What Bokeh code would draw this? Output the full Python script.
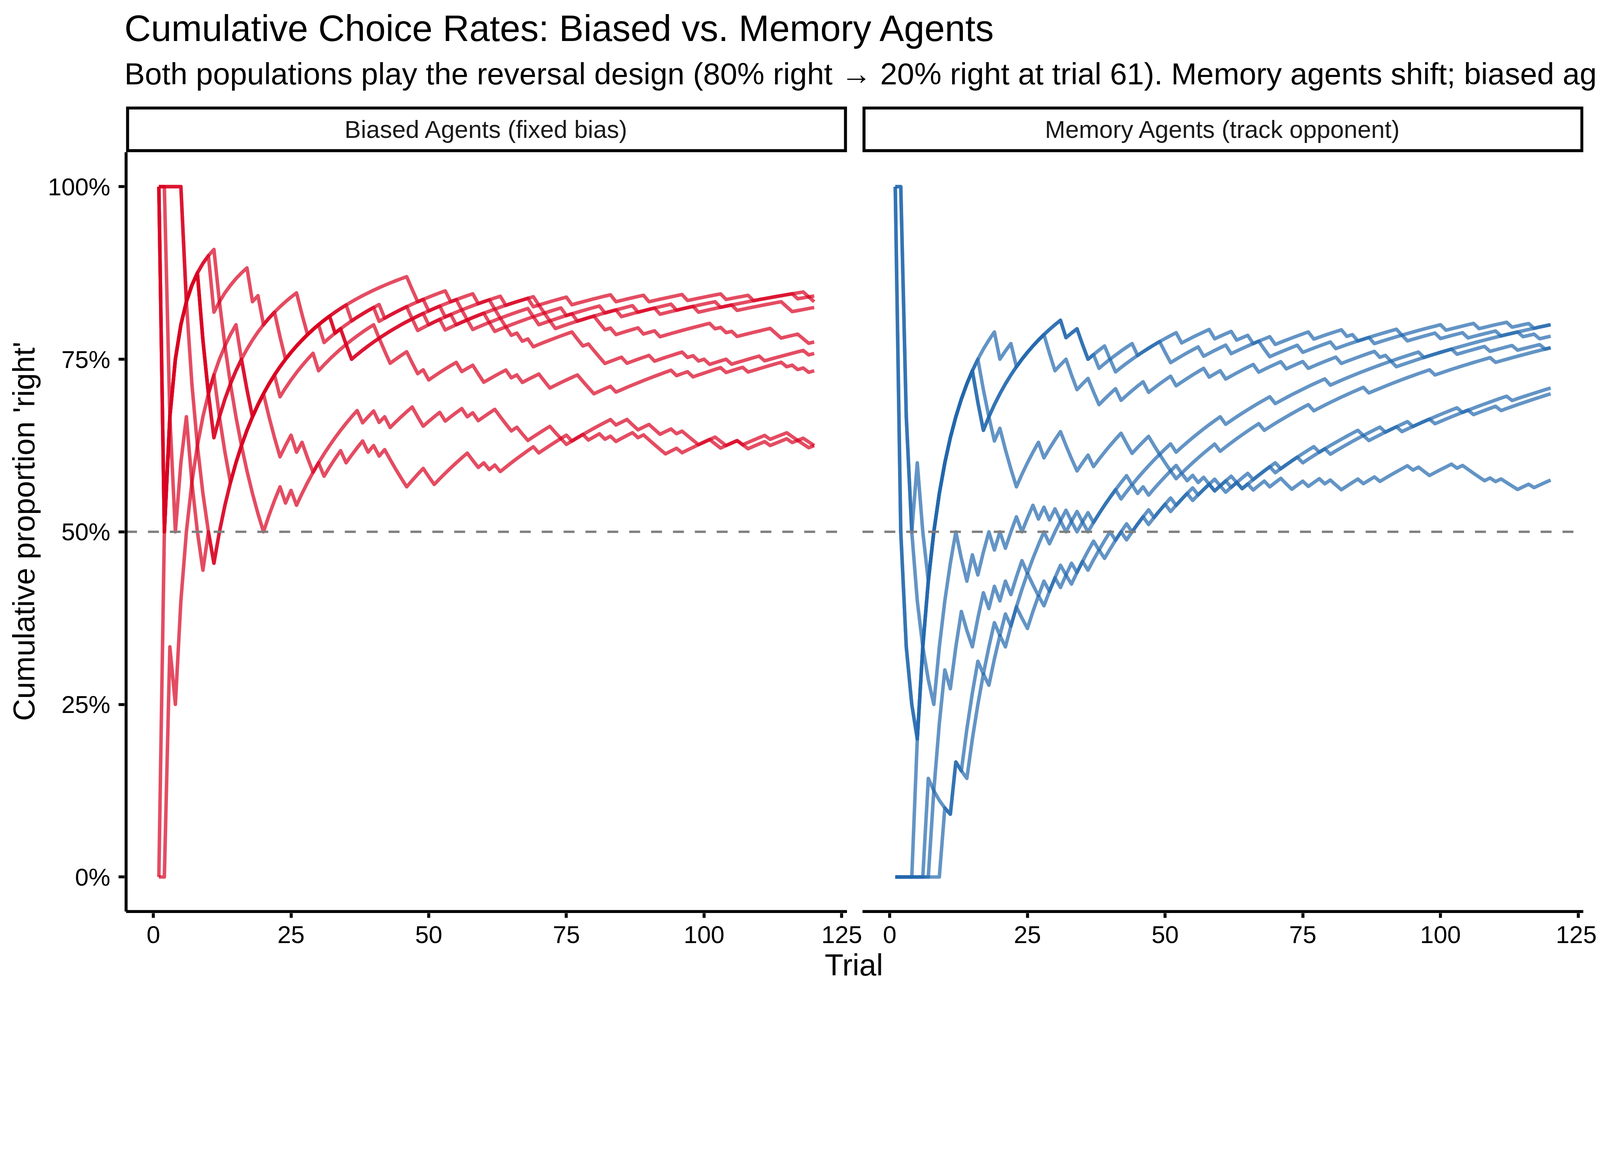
import numpy as np
from bokeh.plotting import figure
from bokeh.models import Range1d, FixedTicker, Title, NumeralTickFormatter
from bokeh.core.properties import value
from bokeh.embed import file_html
from bokeh.resources import INLINE

# ------------------------------------------------------------------ data
N_TRIALS = 120
REF_RATE = 0.5

TITLE = "Cumulative Choice Rates: Biased vs. Memory Agents"
SUBTITLE = ("Both populations play the reversal design (80% right \u2192 20% right at trial 61). "
            "Memory agents shift; biased ag")
X_LABEL = "Trial"
Y_LABEL = "Cumulative proportion 'right'"
panel_titles = ["Biased Agents (fixed bias)", "Memory Agents (track opponent)"]
x_tick_values = [0, 25, 50, 75, 100, 125]
y_tick_values = [0, 0.25, 0.5, 0.75, 1.0]

# trials (1-based) on which each agent chose "left"; every other trial was "right"
biased_left_1 = [6, 7, 8, 9, 10, 11, 47, 48, 54, 59, 64, 70, 76, 84, 90, 97, 104, 109, 117]
biased_left_2 = [2, 11, 18, 20, 27, 28, 36, 42, 50, 56, 57, 63, 69, 75, 82, 88, 95, 103, 119, 120]
biased_left_3 = [2, 9, 10, 11, 17, 18, 33, 35, 36, 48, 53, 58, 64, 70, 77, 85, 92, 99, 106, 115, 116]
biased_left_4 = [1, 9, 10, 16, 23, 24, 31, 41, 47, 53, 62, 69, 71, 72, 73, 81, 82, 84, 89, 92,
                 102, 104, 106, 113, 114, 118, 119]
biased_left_5 = [2, 9, 10, 11, 17, 18, 33, 35, 36, 50, 55, 61, 62, 65, 67, 69, 77, 78, 80, 81, 82,
                 86, 91, 97, 99, 101, 105, 111, 119]
biased_left_6 = [3, 4, 7, 8, 9, 11, 23, 30, 41, 42, 43, 47, 48, 50, 56, 59, 60, 65, 67, 71, 72, 78,
                 79, 80, 84, 95, 98, 104, 108, 115, 117, 119]
biased_left_7 = [1, 2, 4, 12, 13, 14, 21, 22, 23, 26, 28, 29, 38, 41, 43, 48, 49, 53, 57, 59, 63, 64,
                 65, 67, 68, 73, 74, 75, 79, 82, 84, 88, 90, 91, 92, 93, 96, 102, 103, 107, 112,
                 116, 117, 118, 119]
biased_left_8 = [6, 12, 13, 14, 15, 16, 17, 18, 19, 20, 24, 26, 31, 35, 39, 41, 43, 44, 45, 46, 50,
                 51, 58, 59, 61, 63, 70, 76, 84, 87, 88, 91, 92, 95, 97, 98, 99, 103, 104, 107, 108,
                 112, 116, 119, 120]

memory_left_1 = [2, 3, 4, 5, 20, 23, 32, 35, 36, 38, 41, 53, 59, 63, 66, 70, 77, 83, 85, 93, 101,
                 107, 113, 117]
memory_left_2 = [2, 3, 4, 5, 16, 17, 32, 35, 36, 40, 45, 50, 51, 57, 62, 68, 69, 75, 81, 88, 94,
                 100, 105, 111, 115, 118]
memory_left_3 = [1, 2, 3, 4, 16, 17, 29, 30, 33, 34, 37, 38, 42, 47, 52, 58, 61, 67, 72, 76, 82, 89,
                 91, 97, 103, 109, 114, 119]
memory_left_4 = [3, 4, 6, 7, 17, 18, 19, 21, 22, 23, 28, 32, 33, 34, 37, 43, 44, 48, 49, 50, 51, 52,
                 54, 56, 58, 59, 61, 64, 66, 69, 72, 73, 76, 79, 81, 82, 86, 89, 95, 97, 98, 103,
                 105, 106, 107, 108, 110, 112, 113, 114, 117]
memory_left_5 = [3, 4, 5, 6, 7, 8, 13, 14, 16, 19, 21, 24, 27, 29, 31, 32, 35, 36, 44, 52, 61, 70,
                 80, 92]
memory_left_6 = [1, 2, 3, 4, 5, 6, 8, 9, 10, 11, 13, 17, 20, 22, 26, 27, 29, 32, 33, 38, 41, 44, 48,
                 51, 56, 60, 63, 64, 71, 78, 86, 90, 95, 104, 113]
memory_left_7 = [1, 2, 3, 4, 5, 6, 7, 8, 9, 11, 13, 14, 18, 21, 24, 25, 28, 31, 34, 36, 39, 43, 47,
                 52, 55, 59, 62, 66, 70, 75, 80, 87, 93, 99, 106, 111]
memory_left_8 = [1, 2, 3, 4, 5, 6, 7, 11, 14, 15, 18, 20, 22, 25, 29, 33, 34, 37, 42, 45, 47, 53,
                 60, 68, 77, 87, 99, 110]

panels = [
    [biased_left_1, biased_left_2, biased_left_3, biased_left_4,
     biased_left_5, biased_left_6, biased_left_7, biased_left_8],
    [memory_left_1, memory_left_2, memory_left_3, memory_left_4,
     memory_left_5, memory_left_6, memory_left_7, memory_left_8],
]

# ------------------------------------------------------------------ style / layout
# All sizes below are given in screenshot pixels and converted to CSS pixels
# (the page is photographed at about 1.17 screenshot pixels per CSS pixel).
ZOOM = 1.17
MARGIN = 8


def px(d):
    return d / ZOOM


FONT = "Liberation Sans"
panel_colors = ["#D8001F", "#2166AC"]
LINE_ALPHA = 0.7
DATA_LW = px(10.5)
AXIS_LW = px(9)
STRIP_LW = px(9)
REF_LW = px(7)
REF_COLOR = "#7F7F7F"
REF_DASH = "%d %d" % (round(px(33)), round(px(33)))

FS_TITLE = "%.1fpx" % px(110)
FS_SUB = "%.1fpx" % px(91.7)
FS_AXTITLE = "%.1fpx" % px(91.7)
FS_TICK = "%.1fpx" % px(73.3)
FS_STRIP = "%.1fpx" % px(73.3)

W = int(round(4800 / ZOOM - 2 * MARGIN))
H = int(round(3000 / ZOOM - 2 * MARGIN))
PX_X = px(16.515)        # CSS pixels per trial
PX_Y = px(2070.0)        # CSS pixels per unit of proportion
EXPAND = 0.05
PANEL_GAP_PX = px(46.5)
STRIP_PX = px(137)
AXIS_PAD_PX = px(5)
FRAME_LEFT_PX = int(round(px(377) - MARGIN))
FRAME_TOP_PX = int(round(px(324) - MARGIN))

trials = np.arange(1, N_TRIALS + 1)
x_lo = trials[0] - EXPAND * (trials[-1] - trials[0])
x_hi = trials[-1] + EXPAND * (trials[-1] - trials[0])
y_lo, y_hi = 0 - EXPAND, 1 + EXPAND
panel_w = x_hi - x_lo
offset = panel_w + PANEL_GAP_PX / PX_X
offsets = [0.0, offset]

x_start = x_lo - AXIS_PAD_PX / PX_X
x_end = x_hi + offset
y_start = y_lo - AXIS_PAD_PX / PX_Y
y_end = y_hi + STRIP_PX / PX_Y
frame_w = (x_end - x_start) * PX_X
frame_h = (y_end - y_start) * PX_Y
mb_right = int(round(W - FRAME_LEFT_PX - frame_w))
mb_bottom = int(round(H - FRAME_TOP_PX - frame_h))

p = figure(width=W, height=H, x_range=Range1d(x_start, x_end), y_range=Range1d(y_start, y_end),
           output_backend="svg", toolbar_location=None, title=None,
           min_border_left=FRAME_LEFT_PX, min_border_right=mb_right,
           min_border_top=FRAME_TOP_PX, min_border_bottom=mb_bottom,
           outline_line_color=None, background_fill_color="white", border_fill_color="white")
p.grid.visible = False

# ------------------------------------------------------------------ data lines
for off, agents, col in zip(offsets, panels, panel_colors):
    for left_trials in agents:
        choice = np.ones(N_TRIALS)
        choice[np.array(left_trials) - 1] = 0
        rate = np.cumsum(choice) / trials
        p.line(trials + off, rate, line_color=col, line_alpha=LINE_ALPHA,
               line_width=DATA_LW, line_join="round", line_cap="butt")

# reference line at 50%
p.segment(x0=[x_lo + o for o in offsets], y0=[REF_RATE] * 2,
          x1=[x_hi + o for o in offsets], y1=[REF_RATE] * 2,
          line_color=REF_COLOR, line_width=REF_LW, line_dash=REF_DASH)

# axis lines (per panel, as in a faceted plot)
p.segment(x0=[x_lo, x_lo + offset, x_lo], y0=[y_lo, y_lo, y_lo],
          x1=[x_hi, x_hi + offset, x_lo], y1=[y_lo, y_lo, y_hi],
          line_color="black", line_width=AXIS_LW, line_cap="butt")

# facet strips
ix = STRIP_LW / 2 / PX_X
iy = STRIP_LW / 2 / PX_Y
p.quad(left=[x_lo + o + ix for o in offsets], right=[x_hi + o - ix for o in offsets],
       bottom=[y_hi + iy] * 2, top=[y_end - iy] * 2,
       fill_color="white", line_color="black", line_width=STRIP_LW, line_join="miter")
p.text(x=[(x_lo + x_hi) / 2 + o for o in offsets], y=[(y_hi + y_end) / 2] * 2, text=panel_titles,
       text_font=value(FONT), text_font_size=FS_STRIP, text_color="#1A1A1A",
       text_align="center", text_baseline="middle")

# ------------------------------------------------------------------ axes
xt = [float(v + o) for o in offsets for v in x_tick_values]
xl = [str(v) for o in offsets for v in x_tick_values]
xax = p.xaxis[0]
xax.ticker = FixedTicker(ticks=xt)
xax.major_label_overrides = {t: l for t, l in zip(xt, xl)}
xax.axis_line_color = None
xax.minor_tick_line_color = None
xax.major_tick_line_color = "black"
xax.major_tick_line_width = AXIS_LW
xax.major_tick_in = 0
xax.major_tick_out = int(round(px(14)))
xax.major_label_standoff = int(round(px(25)))
xax.major_label_text_font = FONT
xax.major_label_text_font_size = FS_TICK
xax.major_label_text_color = "black"
xax.axis_label = X_LABEL
xax.axis_label_text_font = FONT
xax.axis_label_text_font_size = FS_AXTITLE
xax.axis_label_text_font_style = "normal"
xax.axis_label_text_color = "black"
xax.axis_label_standoff = int(round(px(11)))

yax = p.yaxis[0]
yax.ticker = FixedTicker(ticks=y_tick_values)
yax.formatter = NumeralTickFormatter(format="0%")
yax.axis_line_color = None
yax.minor_tick_line_color = None
yax.major_tick_line_color = "black"
yax.major_tick_line_width = AXIS_LW
yax.major_tick_in = 0
yax.major_tick_out = int(round(px(17)))
yax.major_label_standoff = int(round(px(25)))
yax.major_label_text_font = FONT
yax.major_label_text_font_size = FS_TICK
yax.major_label_text_color = "black"

# y label as a side title, centred on the panel (not on panel + strip)
ylab_len_px = 12.386 * px(91.7)
panel_mid_from_bottom = AXIS_PAD_PX + (0.5 - y_lo) * PX_Y
p.add_layout(Title(text=Y_LABEL, text_font=FONT, text_font_size=FS_AXTITLE,
                   text_font_style="normal", text_color="black", align="left",
                   offset=panel_mid_from_bottom - ylab_len_px / 2,
                   standoff=int(round(px(34)))), "left")

# titles (stacked outward from the frame)
p.add_layout(Title(text=" ", text_font=FONT, text_font_size="%.1fpx" % px(40), standoff=0), "above")
p.add_layout(Title(text=SUBTITLE, text_font=FONT, text_font_size=FS_SUB,
                   text_font_style="normal", text_color="black", align="left",
                   offset=0, standoff=0), "above")
p.add_layout(Title(text=TITLE, text_font=FONT, text_font_size=FS_TITLE,
                   text_font_style="normal", text_color="black", align="left",
                   offset=0, standoff=int(round(px(41)))), "above")

open("out.html", "w").write(file_html(p, INLINE))
